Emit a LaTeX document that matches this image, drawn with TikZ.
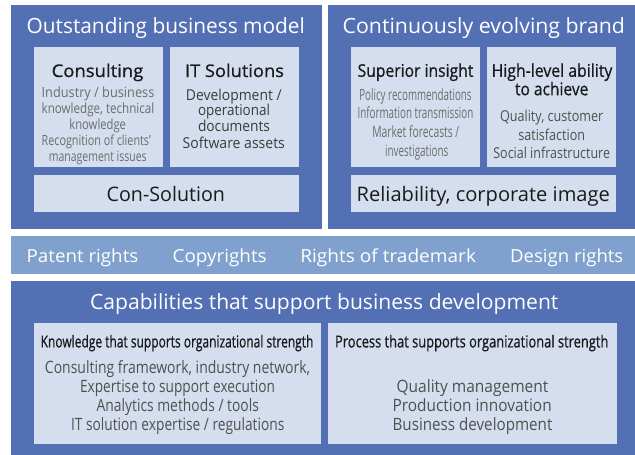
\documentclass[tikz,border=0pt]{standalone}
\usepackage{fontspec}
\usepackage{graphicx}
\setmainfont{Open Sans}
\newfontfamily\hfont[FakeBold=0.8]{Open Sans}
\definecolor{panelblue}{RGB}{83,112,180}
\definecolor{lightbox}{RGB}{213,222,238}
\definecolor{bandblue}{RGB}{128,161,206}
\definecolor{headcol}{RGB}{26,26,26}
\definecolor{greytxt}{RGB}{108,108,108}
\definecolor{darktxt}{RGB}{60,60,60}
\definecolor{midtxt}{RGB}{80,80,80}
\newsavebox\fitbox
\newcommand\fitto[2]{\sbox\fitbox{#2}\pgfmathsetmacro\fitfac{#1/\wd\fitbox}\scalebox{\fitfac}[1]{\usebox\fitbox}}
\newcommand\txtline[6]{\node[txt,#5] (#1) at (#2,#3) {\fitto{#4}{#6}};}
\tikzset{
  panel/.style={fill=panelblue},
  inbox/.style={fill=lightbox},
  bandbox/.style={fill=bandblue},
  txt/.style={anchor=base, inner sep=0pt, outer sep=0pt},
  titletxt/.style={text=white, font=\fontsize{21}{25}\selectfont},
  bandtxt/.style={text=white, font=\fontsize{18}{22}\selectfont},
  headtxt/.style={text=headcol, font=\hfont\fontsize{17.5}{20}\selectfont},
  bigtxt/.style={text=headcol, font=\fontsize{20}{24}\selectfont},
  smallgrey/.style={text=greytxt, font=\fontsize{14}{16}\selectfont},
  insightgrey/.style={text=greytxt, font=\fontsize{15.5}{18}\selectfont},
  itbody/.style={text=darktxt, font=\fontsize{15}{17}\selectfont},
  hlbody/.style={text=midtxt, font=\fontsize{15}{17}\selectfont},
  orghead/.style={text=headcol, font=\hfont\fontsize{16.5}{19}\selectfont},
  orgbody/.style={text=midtxt, font=\fontsize{17}{20}\selectfont},
}
\begin{document}
\begin{tikzpicture}[x=1pt,y=-1pt]
\useasboundingbox (0,0) rectangle (635,455);
% panels
\path[panel] (11,5) rectangle (322,229);
\path[panel] (328,5) rectangle (635,229);
\path[bandbox] (11,236) rectangle (635,274);
\path[panel] (11,281) rectangle (635,455);
% inner boxes
\path[inbox] (34,47) rectangle (163,167);
\path[inbox] (170,47) rectangle (299,167);
\path[inbox] (34,175) rectangle (299,212);
\path[inbox] (351,47) rectangle (480,167);
\path[inbox] (487,47) rectangle (616,167);
\path[inbox] (351,175) rectangle (616,212);
\path[inbox] (34,323) rectangle (321,444);
\path[inbox] (328,323) rectangle (617,444);
% titles
\txtline{t1}{165.8}{33.5}{278.3}{titletxt}{Outstanding business model}
\txtline{t2}{483.8}{33.5}{282.3}{titletxt}{Continuously evolving brand}
\txtline{t3}{324.2}{309.5}{468.3}{titletxt}{Capabilities that support business development}
% consulting
\txtline{c0}{97.5}{77}{91.7}{headtxt}{Consulting}
\txtline{c1}{98}{97.3}{112.7}{smallgrey}{Industry / business}
\txtline{c2}{98}{113.3}{112.7}{smallgrey}{knowledge, technical}
\txtline{c3}{97.7}{129.3}{56.7}{smallgrey}{knowledge}
\txtline{c4}{96.3}{145}{109.3}{smallgrey}{Recognition of clients'}
\txtline{c5}{97.8}{161}{97.7}{smallgrey}{management issues}
% IT solutions
\txtline{i0}{234.5}{77}{99}{headtxt}{IT Solutions}
\txtline{i1}{233.8}{100.6}{95.7}{itbody}{Development /}
\txtline{i2}{234}{115.6}{72}{itbody}{operational}
\txtline{i3}{234}{131.6}{72}{itbody}{documents}
\txtline{i4}{233.8}{148.2}{102.3}{itbody}{Software assets}
\txtline{cs}{165.8}{201.5}{118.3}{bigtxt}{Con-Solution}
% superior insight
\txtline{s0}{415.5}{76.8}{115.7}{headtxt}{Superior insight}
\txtline{s1}{415.5}{100.9}{112.3}{insightgrey}{Policy recommendations}
\txtline{s2}{415.5}{118.5}{115.7}{insightgrey}{Information transmission}
\txtline{s3}{415.8}{137.2}{87}{insightgrey}{Market forecasts /}
\txtline{s4}{416.7}{156.2}{63.3}{insightgrey}{investigations}
% high-level ability
\txtline{h0}{552}{76.8}{120.7}{headtxt}{High-level ability}
\txtline{h1}{551.7}{95.2}{73.3}{headtxt}{to achieve}
\txtline{h2}{551.7}{121.8}{103.3}{hlbody}{Quality, customer}
\txtline{h3}{551.7}{140.2}{66.7}{hlbody}{satisfaction}
\txtline{h4}{551.7}{158.2}{116.7}{hlbody}{Social infrastructure}
\txtline{rl}{483.3}{201.5}{253.3}{bigtxt}{Reliability, corporate image}
% band
\txtline{b1}{82.5}{262.2}{111.7}{bandtxt}{Patent rights}
\txtline{b2}{219.7}{262.2}{94}{bandtxt}{Copyrights}
\txtline{b3}{388.2}{262.2}{175.6}{bandtxt}{Rights of trademark}
\txtline{b4}{566.7}{262.2}{113.3}{bandtxt}{Design rights}
% knowledge
\txtline{k0}{177}{347.4}{272.7}{orghead}{Knowledge that supports organizational strength}
\txtline{k1}{177.5}{373.4}{265}{orgbody}{Consulting framework, industry network,}
\txtline{k2}{177.5}{392.5}{195}{orgbody}{Expertise to support execution}
\txtline{k3}{177.8}{411.5}{162.3}{orgbody}{Analytics methods / tools}
\txtline{k4}{177.7}{430.8}{213.3}{orgbody}{IT solution expertise / regulations}
% process
\txtline{p0}{471.7}{347.4}{273.3}{orghead}{Process that supports organizational strength}
\txtline{p1}{472.5}{392.5}{151.7}{orgbody}{Quality management}
\txtline{p2}{472.2}{411.5}{159}{orgbody}{Production innovation}
\txtline{p3}{472.5}{430.8}{159.7}{orgbody}{Business development}
\end{tikzpicture}
\end{document}
